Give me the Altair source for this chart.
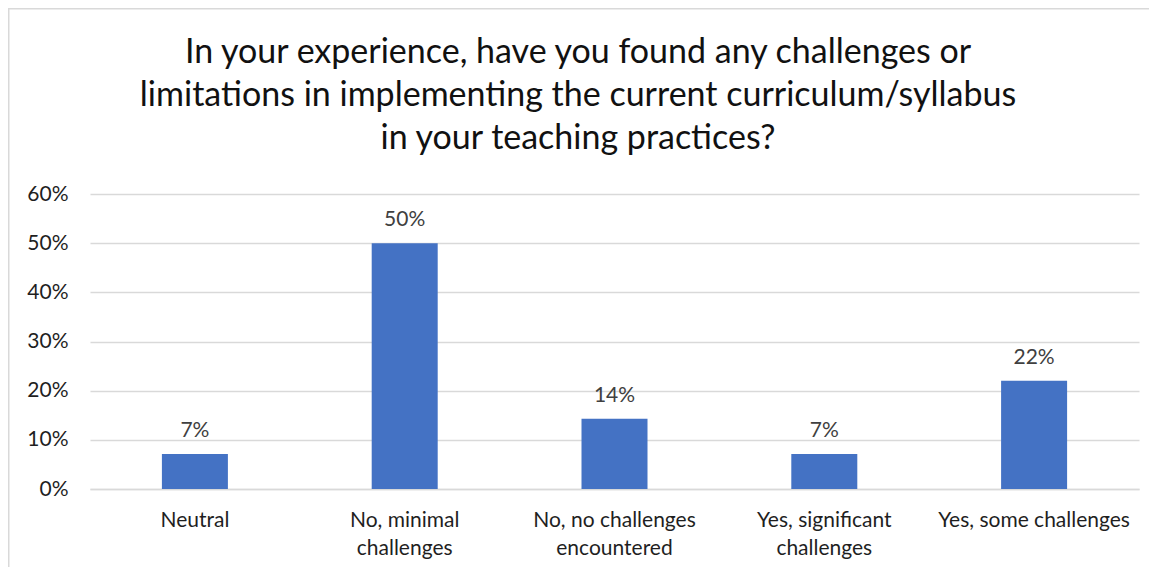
import altair as alt
import pandas as pd

categories = ["Neutral", "No, minimal challenges", "No, no challenges encountered",
              "Yes, significant challenges", "Yes, some challenges"]
label_lines = [["Neutral"], ["No, minimal", "challenges"], ["No, no challenges", "encountered"],
               ["Yes, significant", "challenges"], ["Yes, some challenges"]]
values = [0.071, 0.50, 0.143, 0.071, 0.22]
title_lines = ["In your experience, have you found any challenges or",
               "limitations in implementing the current curriculum/syllabus",
               "in your teaching practices?"]

df = pd.DataFrame({"category": categories, "value": values})

label_expr = "{" + ", ".join(
    f"'{c}': [" + ", ".join(f"'{l}'" for l in ls) + "]" for c, ls in zip(categories, label_lines)
) + "}[datum.value]"

FONT = "Lato"
W, H = 1049, 295
PAD_L, PAD_T = 82, 186

base = alt.Chart(df).encode(
    x=alt.X("category:N", sort=categories, title=None,
            scale=alt.Scale(paddingInner=0, paddingOuter=0),
            axis=alt.Axis(labelAngle=0, labelExpr=label_expr, labelFontSize=21,
                          labelColor="#1f1f1f", labelFont=FONT, labelPadding=20,
                          labelLineHeight=28, labelLimit=0, ticks=False, domain=True,
                          domainColor="#D9D9D9", domainWidth=1.5, labelBaseline="top")),
    y=alt.Y("value:Q", title=None,
            scale=alt.Scale(domain=[0, 0.6], nice=False),
            axis=alt.Axis(format=".0%", values=[0, 0.1, 0.2, 0.3, 0.4, 0.5, 0.6],
                          labelFontSize=21, labelColor="#1f1f1f", labelFont=FONT,
                          labelPadding=22, ticks=False, domain=False,
                          gridColor="#D9D9D9", gridWidth=1.5)),
)

bars = base.mark_bar(color="#4472C4", size=66)
text = base.mark_text(baseline="alphabetic", dy=-17, fontSize=21, color="#404040",
                      font=FONT).encode(text=alt.Text("value:Q", format=".0%"))

one = pd.DataFrame({"k": [0]})
title = alt.Chart(one).mark_text(
    fontSize=34, font=FONT, color="#111111", lineHeight=43,
    align="center", baseline="alphabetic",
).encode(x=alt.value(578 - 8 - PAD_L), y=alt.value(63 - 8 - PAD_T),
         text=alt.value(title_lines))

# light chart-area border (top and left edges visible in the reference)
border_top = alt.Chart(one).mark_rule(color="#D9D9D9", strokeWidth=1.5).encode(
    x=alt.value(-PAD_L), x2=alt.value(W + 20), y=alt.value(-PAD_T + 0.75))
border_left = alt.Chart(one).mark_rule(color="#D9D9D9", strokeWidth=1.5).encode(
    x=alt.value(-PAD_L + 0.75), y=alt.value(-PAD_T), y2=alt.value(H + 90))

chart = alt.layer(bars, text, title, border_top, border_left).properties(
    width=W, height=H,
    background="white",
    autosize=alt.AutoSizeParams(type="none"),
    padding={"left": PAD_L, "top": PAD_T, "right": 1157 - 16 - PAD_L - W,
             "bottom": 575 - 16 - PAD_T - H},
).configure_view(stroke=None)

chart.save("out.html", embed_options={"renderer": "svg", "actions": False})
